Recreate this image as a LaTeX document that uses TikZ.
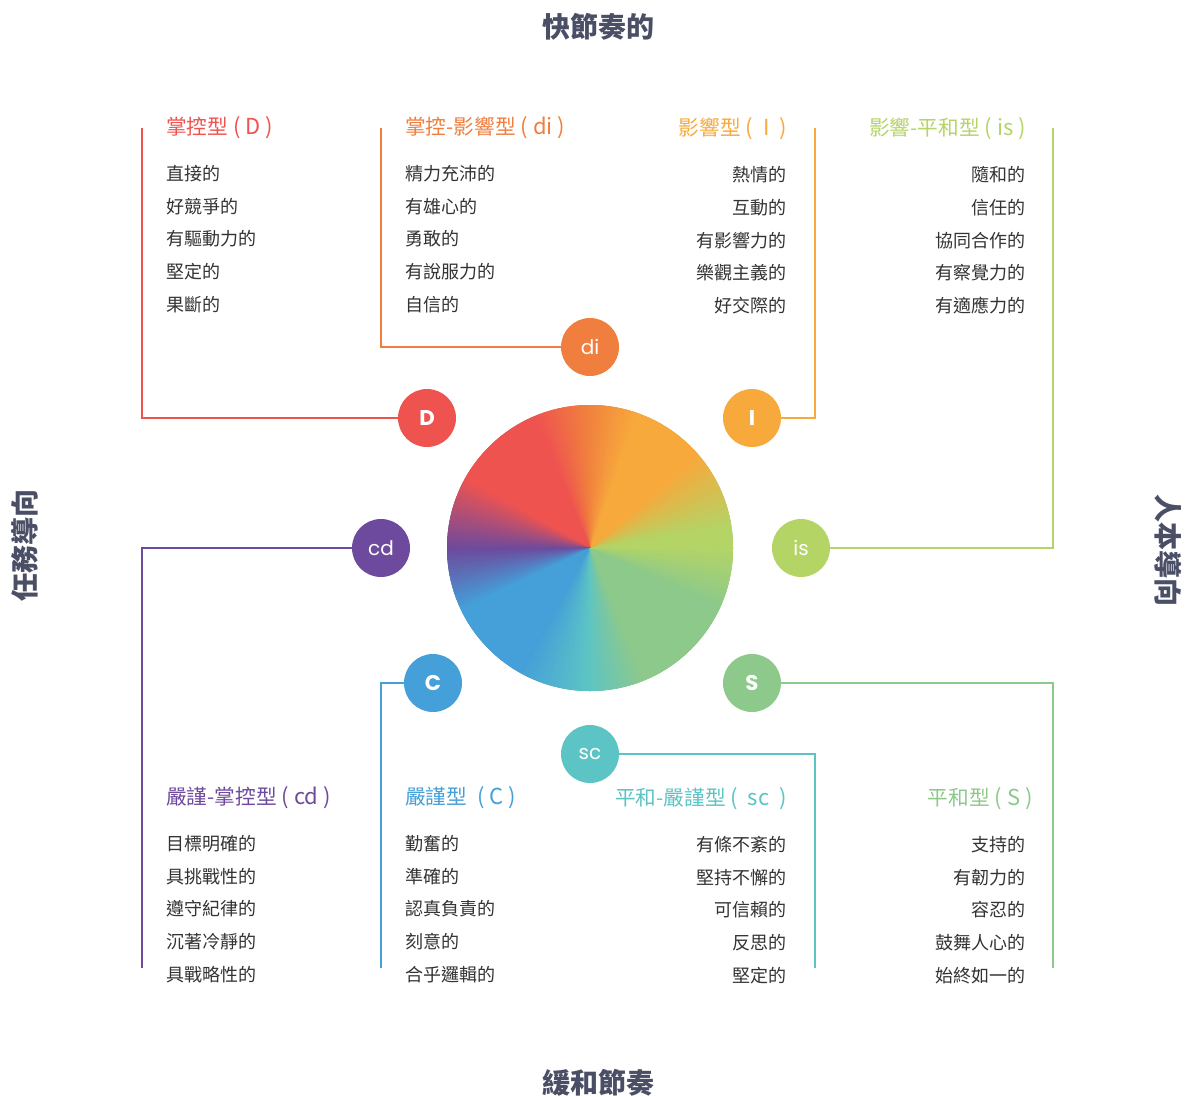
\documentclass[tikz,border=0pt]{standalone}
\usepackage{fontspec}
\setmainfont{Noto Sans CJK TC}
\newfontfamily\pop{Poppins}
\definecolor{cD}{HTML}{EF5350}
\definecolor{cdi}{HTML}{F07E3E}
\definecolor{cI}{HTML}{F7A93C}
\definecolor{cis}{HTML}{B4D466}
\definecolor{cS}{HTML}{8DC98B}
\definecolor{csc}{HTML}{5CC4C5}
\definecolor{cC}{HTML}{459FD8}
\definecolor{ccd}{HTML}{6D4A9D}
\definecolor{txt}{HTML}{333333}
\definecolor{axc}{HTML}{4A4F66}
\newcommand{\lat}[1]{{\fontsize{16.5}{16.5}\selectfont #1}}
\tikzset{
  lw/.style={line width=1.5pt},
  dot/.style={circle, minimum size=43.5pt, inner sep=0pt, text=white, font=\pop\fontsize{15}{15}\selectfont},
  bdot/.style={dot, font=\pop\bfseries\fontsize{16}{16}\selectfont},
  head/.style={font=\fontsize{15.5}{15.5}\selectfont, inner sep=0pt},
  item/.style={font=\fontsize{13.5}{13.5}\selectfont, inner sep=0pt, text=txt},
  axis/.style={font=\bfseries\fontsize{21}{21}\selectfont, text=axc, inner sep=0pt},
}
\begin{document}
\begin{tikzpicture}[x=0.75pt,y=-0.75pt]
\useasboundingbox[fill=white] (0,0) rectangle (1187,1096);

% axis labels
\node[axis] (top) at (598,27) {快節奏的};
\node[axis] (bottom) at (598,1083) {緩和節奏};
\node[axis, rotate=90] (left) at (25,545) {任務導向};
\node[axis, rotate=-90] (right) at (1168,550) {人本導向};

% colour wheel
\begin{scope}[shift={(590,548)}]
  \clip (0,0) circle[radius=107.25pt];
  \fill[cS] (0,0) circle[radius=110pt];
  \foreach \sa/\sb/\ca/\cb in {0/8/cis/cis, 8/40/cis/cI, 40/70/cI/cI, 70/92/cI/cdi,
      92/112/cdi/cD, 112/150/cD/cD, 150/180/cD/ccd, 180/205/ccd/cC, 205/240/cC/cC,
      240/268/cC/csc, 268/292/csc/cS, 292/335/cS/cS, 335/360/cS/cis} {
    \pgfmathtruncatemacro\n{\sb-\sa-1}
    \foreach \j in {0,...,\n} {
      \pgfmathtruncatemacro\p{100*\j/(\sb-\sa)}
      \pgfmathsetmacro\a{\sa+\j}
      \fill[\cb!\p!\ca] (0,0) -- ({-\a}:150) -- ({-\a-1}:150) -- ({-\a-2.2}:150) -- cycle;
    }
  }
\end{scope}
\node[circle, minimum size=214.5pt, inner sep=0pt] (wheel) at (590,548) {};

% small circles
\node[bdot, fill=cD] (D) at (427,418) {D};
\node[dot, fill=cdi] (di) at (590,347) {di};
\node[bdot, fill=cI] (I) at (752,418) {I};
\node[dot, fill=cis] (is) at (801,548) {is};
\node[bdot, fill=cS] (S) at (752,683) {S};
\node[dot, fill=csc] (sc) at (590,754) {sc};
\node[bdot, fill=cC] (C) at (433,683) {C};
\node[dot, fill=ccd] (cd) at (381,548) {cd};

% connector ends
\coordinate (eD) at (142,128);
\coordinate (edi) at (381,128);
\coordinate (eI) at (815,128);
\coordinate (eis) at (1053,128);
\coordinate (ecd) at (142,968);
\coordinate (eC) at (381,968);
\coordinate (esc) at (815,968);
\coordinate (eS) at (1053,968);

\draw[lw, cD] (D.west) -| (eD);
\draw[lw, cdi] (di.west) -| (edi);
\draw[lw, cI] (I.east) -| (eI);
\draw[lw, cis] (is.east) -| (eis);
\draw[lw, ccd] (cd.west) -| (ecd);
\draw[lw, cC] (C.west) -| (eC);
\draw[lw, csc] (sc.east) -| (esc);
\draw[lw, cS] (S.east) -| (eS);

% headings
\node[head, text=cD, anchor=west] (hD) at (166,127.5) {掌控型\lat{ ( D )}};
\node[head, text=cdi, anchor=west] (hdi) at (405,127.5) {掌控-影響型\lat{ ( di )}};
\node[head, text=cI, anchor=east] (hI) at (787,128.5) {影響型\lat{ (\ \ I\ \ )}};
\node[head, text=cis, anchor=east] (his) at (1026,128.5) {影響-平和型\lat{ ( is )}};
\node[head, text=ccd, anchor=west] (hcd) at (166,797.5) {嚴謹-掌控型\lat{ ( cd )}};
\node[head, text=cC, anchor=west] (hC) at (405,797.5) {嚴謹型\lat{ \ ( C )}};
\node[head, text=csc, anchor=east] (hsc) at (787,798.5) {平和-嚴謹型\lat{ (\ \ sc\ \ )}};
\node[head, text=cS, anchor=east] (hS) at (1033,798.5) {平和型\lat{ ( S )}};

% items
\foreach \t [count=\i] in {直接的,好競爭的,有驅動力的,堅定的,果斷的}
  \node[item, anchor=west] (tD\i) at (166,{173.5+32.7*(\i-1)}) {\t};
\foreach \t [count=\i] in {精力充沛的,有雄心的,勇敢的,有說服力的,自信的}
  \node[item, anchor=west] (tdi\i) at (405,{173.5+32.7*(\i-1)}) {\t};
\foreach \t [count=\i] in {熱情的,互動的,有影響力的,樂觀主義的,好交際的}
  \node[item, anchor=east] (tI\i) at (787,{175+32.7*(\i-1)}) {\t};
\foreach \t [count=\i] in {隨和的,信任的,協同合作的,有察覺力的,有適應力的}
  \node[item, anchor=east] (tis\i) at (1026,{175+32.7*(\i-1)}) {\t};
\foreach \t [count=\i] in {目標明確的,具挑戰性的,遵守紀律的,沉著冷靜的,具戰略性的}
  \node[item, anchor=west] (tcd\i) at (166,{843.5+32.7*(\i-1)}) {\t};
\foreach \t [count=\i] in {勤奮的,準確的,認真負責的,刻意的,合乎邏輯的}
  \node[item, anchor=west] (tC\i) at (405,{843.5+32.7*(\i-1)}) {\t};
\foreach \t [count=\i] in {有條不紊的,堅持不懈的,可信賴的,反思的,堅定的}
  \node[item, anchor=east] (tsc\i) at (787,{844.5+32.7*(\i-1)}) {\t};
\foreach \t [count=\i] in {支持的,有韌力的,容忍的,鼓舞人心的,始終如一的}
  \node[item, anchor=east] (tS\i) at (1026,{844.5+32.7*(\i-1)}) {\t};
\end{tikzpicture}
\end{document}
